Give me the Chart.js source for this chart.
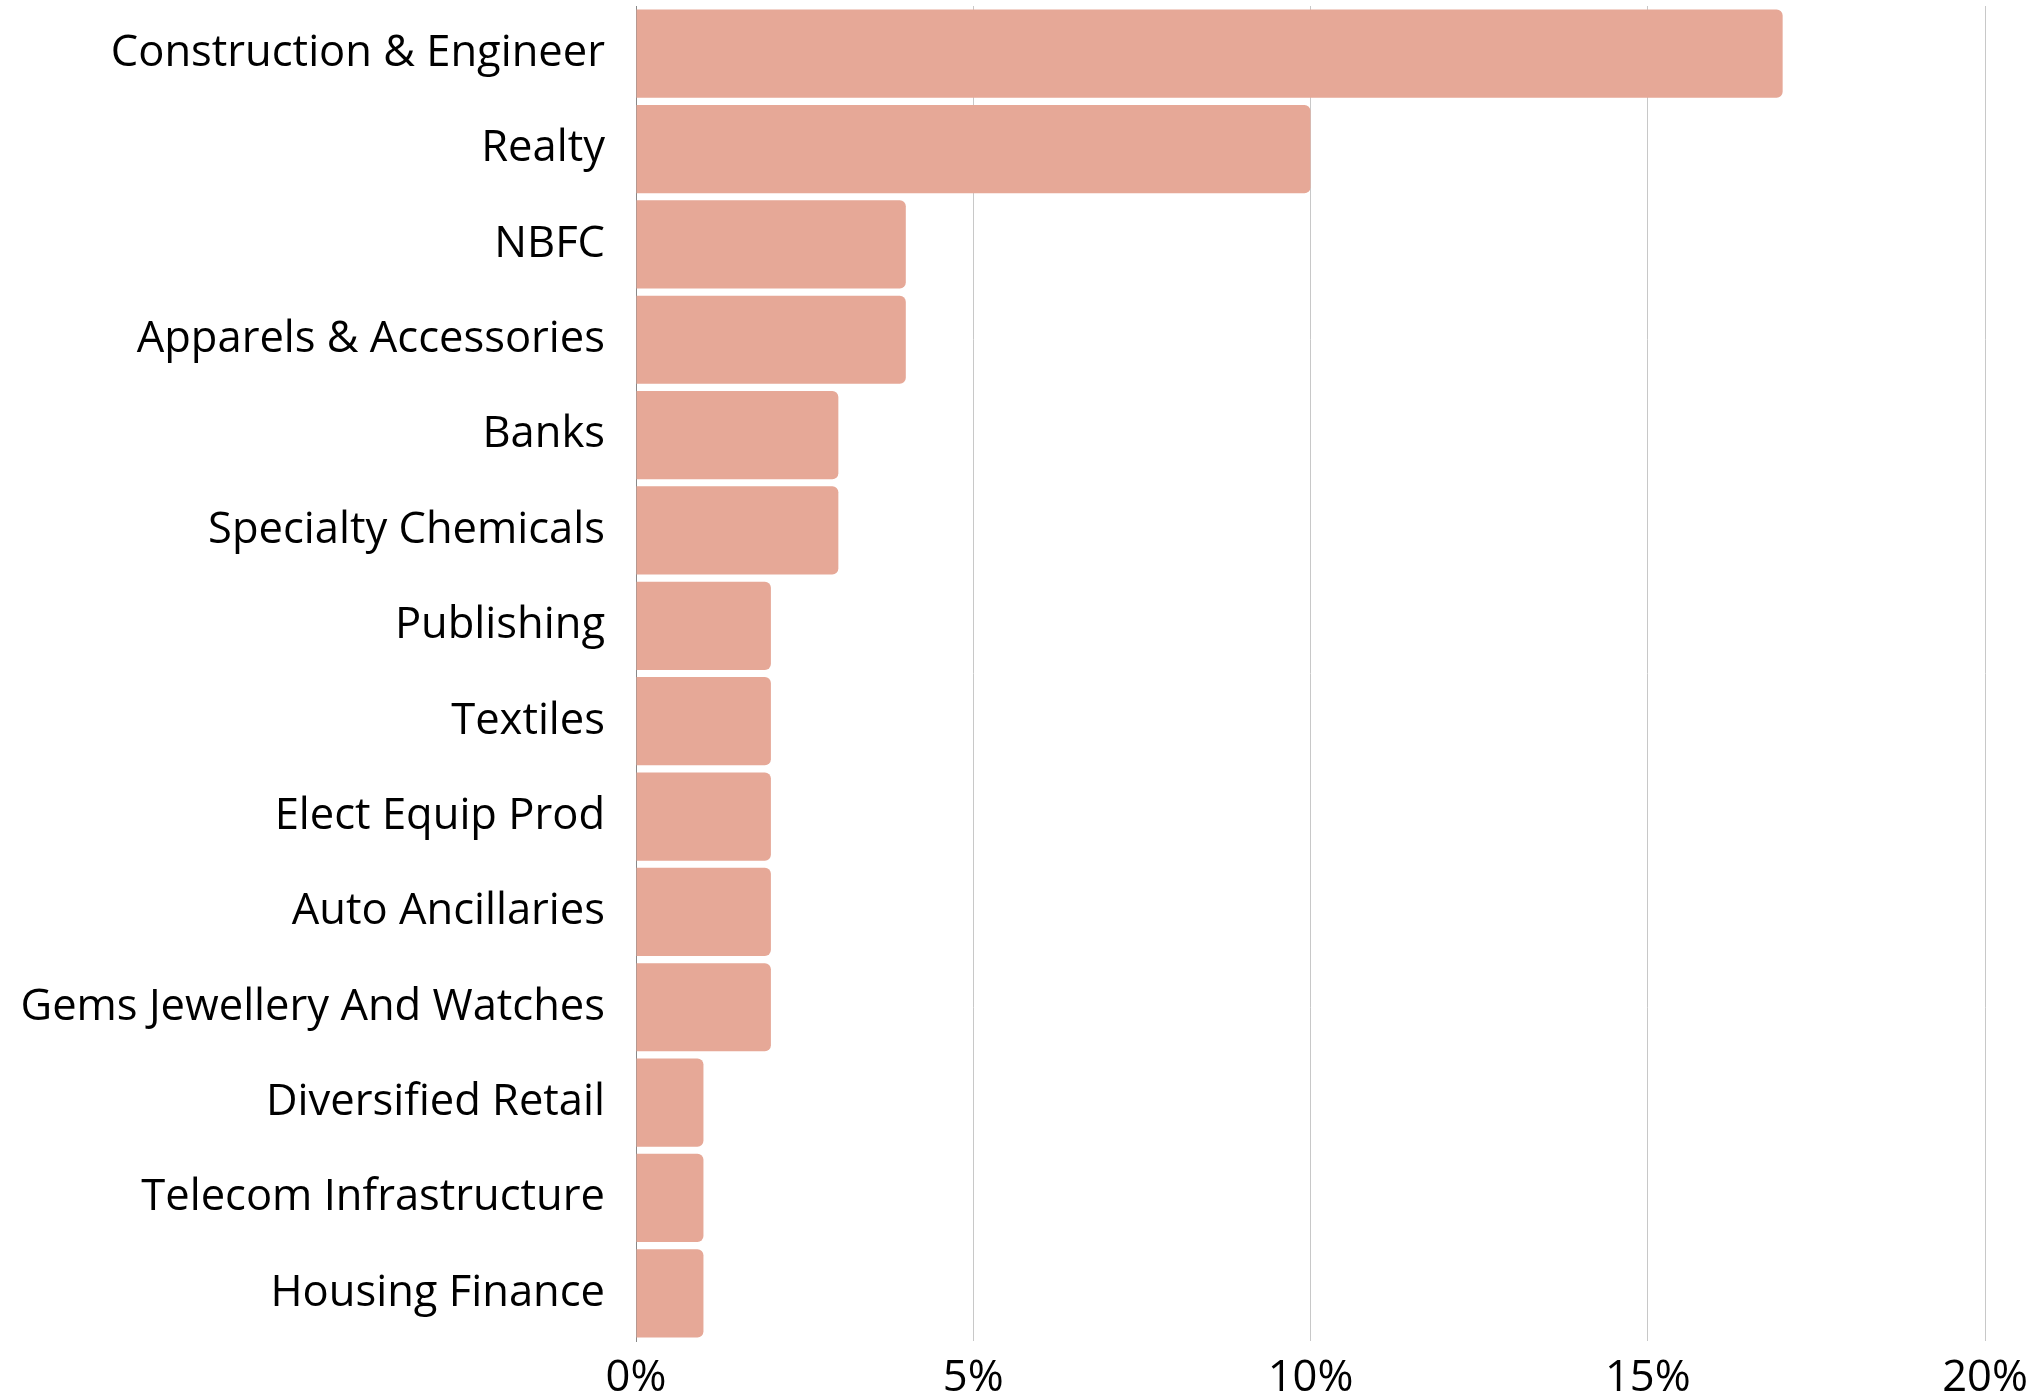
<!DOCTYPE html>
<html>
<head>
<meta charset="utf-8">
<script src="https://cdn.jsdelivr.net/npm/chart.js@4.4.1/dist/chart.umd.min.js"></script>
<style>
    html, body { margin: 0; padding: 0; background: #fff; }
    #wrap { width: 2033px; height: 1399px; position: relative; }
</style>
</head>
<body>
<div id="wrap"><canvas id="setorChart"></canvas></div>
<script>
// Setores (de cima para baixo) e peso em %
const setores = [
    'Construction & Engineer',
    'Realty',
    'NBFC',
    'Apparels & Accessories',
    'Banks',
    'Specialty Chemicals',
    'Publishing',
    'Textiles',
    'Elect Equip Prod',
    'Auto Ancillaries',
    'Gems Jewellery And Watches',
    'Diversified Retail',
    'Telecom Infrastructure',
    'Housing Finance'
];
const pesos = [17, 10, 4, 4, 3, 3, 2, 2, 2, 2, 2, 1, 1, 1];
const ticksX = [0, 5, 10, 15, 20];

const COR_BARRA = '#E6A897';
const FONTE = "'Open Sans', sans-serif";

document.addEventListener('DOMContentLoaded', function() {
    const ctx = document.getElementById('setorChart');

    new Chart(ctx.getContext('2d'), {
        type: 'bar',
        data: {
            labels: setores,
            datasets: [{
                data: pesos,
                backgroundColor: COR_BARRA,
                borderWidth: 0,
                borderRadius: 6,
                categoryPercentage: 1,
                barPercentage: 0.925
            }]
        },
        options: {
            indexAxis: 'y',
            responsive: true,
            maintainAspectRatio: false,
            animation: false,
            layout: {
                padding: { top: 6, right: 48, left: 0, bottom: 0 }
            },
            plugins: {
                legend: { display: false },
                tooltip: { enabled: false }
            },
            scales: {
                x: {
                    min: ticksX[0],
                    max: ticksX[ticksX.length - 1],
                    afterBuildTicks: function(scale) {
                        scale.ticks = ticksX.map(v => ({ value: v }));
                    },
                    afterFit: function(scale) {
                        scale.height = 58;
                        // o rótulo "20%" pode sair um pouco da área
                        scale.paddingLeft = 0;
                        scale.paddingRight = 0;
                    },
                    grid: {
                        color: '#c8c8c8',
                        lineWidth: 1,
                        drawTicks: false
                    },
                    border: { display: false },
                    ticks: {
                        color: '#000',
                        padding: 12,
                        font: { family: FONTE, size: 43.5 },
                        callback: function(value) {
                            return value + '%';
                        }
                    }
                },
                y: {
                    afterFit: function(scale) {
                        scale.width = 636;
                        // sem folga extra em cima/embaixo para os rótulos
                        scale.paddingTop = 0;
                        scale.paddingBottom = 0;
                    },
                    grid: { display: false, drawTicks: false },
                    border: { display: true, color: '#888888', width: 1 },
                    ticks: {
                        color: '#000',
                        padding: 31,
                        autoSkip: false,
                        font: { family: FONTE, size: 43.5 }
                    }
                }
            }
        }
    });
});
</script>
</body>
</html>
